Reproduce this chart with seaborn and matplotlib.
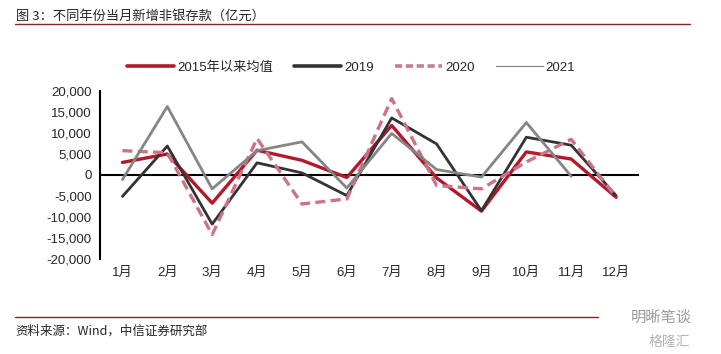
import numpy as np
import pandas as pd
import matplotlib.pyplot as plt
import seaborn as sns
from matplotlib.lines import Line2D

# 月份与各序列数据（亿元）
months = ["1月", "2月", "3月", "4月", "5月", "6月", "7月", "8月", "9月", "10月", "11月", "12月"]
avg_since_2015 = [3000, 5000, -6700, 5900, 3500, -600, 11800, -700, -8600, 5500, 3800, -5300]
y2019 = [-5100, 6900, -11700, 2900, 500, -4900, 13600, 7400, -8500, 9000, 7100, -4900]
y2020 = [5800, 5300, -14200, 8700, -6900, -5700, 18200, -2500, -3300, 3100, 8500, -5300]
y2021 = [-1100, 16300, -3300, 5800, 7900, -3100, 9900, 1300, -500, 12500, -300, np.nan]

series_names = ["2015年以来均值", "2019", "2020", "2021"]
colors = ["#B3182B", "#333333", "#CC7385", "#858585"]

df = pd.DataFrame({
    "月": list(range(1, 13)) * 4,
    "值": avg_since_2015 + y2019 + y2020 + y2021,
    "序列": [n for n in series_names for _ in range(12)],
})

sns.set_style("white")
plt.rcParams["font.family"] = ["Liberation Sans", "Noto Sans CJK SC", "DejaVu Sans"]

fig = plt.figure(figsize=(7.21, 3.54), dpi=100)
ax = fig.add_axes([0.1387, 0.2684, 0.7469, 0.4745])

ax.axhline(0, color="black", lw=1.5, zorder=1)

styles = {
    "2015年以来均值": dict(lw=2.4, ls="-"),
    "2019": dict(lw=2.0, ls="-"),
    "2020": dict(lw=2.4, ls=(0, (3, 1.6))),
    "2021": dict(lw=2.0, ls="-"),
}
for name, c in zip(series_names, colors):
    sub = df[df["序列"] == name]
    sns.lineplot(data=sub, x="月", y="值", color=c, ax=ax, legend=False,
                 zorder=3, **styles[name])

ax.set_xlim(0.5, 12.5)
ax.set_ylim(-20000, 20000)
ax.set_yticks(range(-20000, 20001, 5000))
ax.set_yticklabels([f"{v:,}" for v in range(-20000, 20001, 5000)], fontsize=9.5)
ax.set_xticks(range(1, 13))
ax.set_xticklabels(months, fontsize=9.5)
ax.set_xlabel("")
ax.set_ylabel("")

for s in ["top", "right", "bottom"]:
    ax.spines[s].set_visible(False)
ax.spines["left"].set_color("black")
ax.spines["left"].set_linewidth(1.5)
ax.tick_params(axis="y", direction="in", length=3, width=1.2, color="black", pad=6)
ax.tick_params(axis="x", length=0, pad=6)

handles = [
    Line2D([], [], color=colors[0], lw=2.6),
    Line2D([], [], color=colors[1], lw=2.6),
    Line2D([], [], color="#C58090", lw=2.6, ls=(0, (2, 1))),
    Line2D([], [], color="#7F7F7F", lw=0.8),
]
fig.legend(handles, series_names, loc="center", bbox_to_anchor=(0.487, 0.81),
           ncol=4, frameon=False, fontsize=9.5, handlelength=3.6,
           handletextpad=0.2, columnspacing=1.6)

fig.text(0.022, 0.955, "图 3：不同年份当月新增非银存款（亿元）", fontsize=9.5,
         va="center", ha="left", family=["Noto Sans CJK SC", "DejaVu Sans"])
fig.add_artist(Line2D([0.021, 0.957], [0.932, 0.932], color="#8B2323", lw=1.0))
fig.add_artist(Line2D([0.021, 0.83], [0.105, 0.105], color="#8B2323", lw=1.0))
fig.text(0.022, 0.065, "资料来源：Wind，中信证券研究部", fontsize=9,
         va="center", ha="left", family=["Noto Sans CJK SC", "DejaVu Sans"])
fig.text(0.875, 0.105, "明晰笔谈", fontsize=11, color="#9A9A9A",
         va="center", ha="left", family=["Noto Sans CJK SC", "DejaVu Sans"])
fig.text(0.90, 0.035, "格隆汇", fontsize=10, color="#B5B5B5",
         va="center", ha="left", family=["Noto Sans CJK SC", "DejaVu Sans"])

fig.savefig("out.png", dpi=100)
plt.close(fig)
